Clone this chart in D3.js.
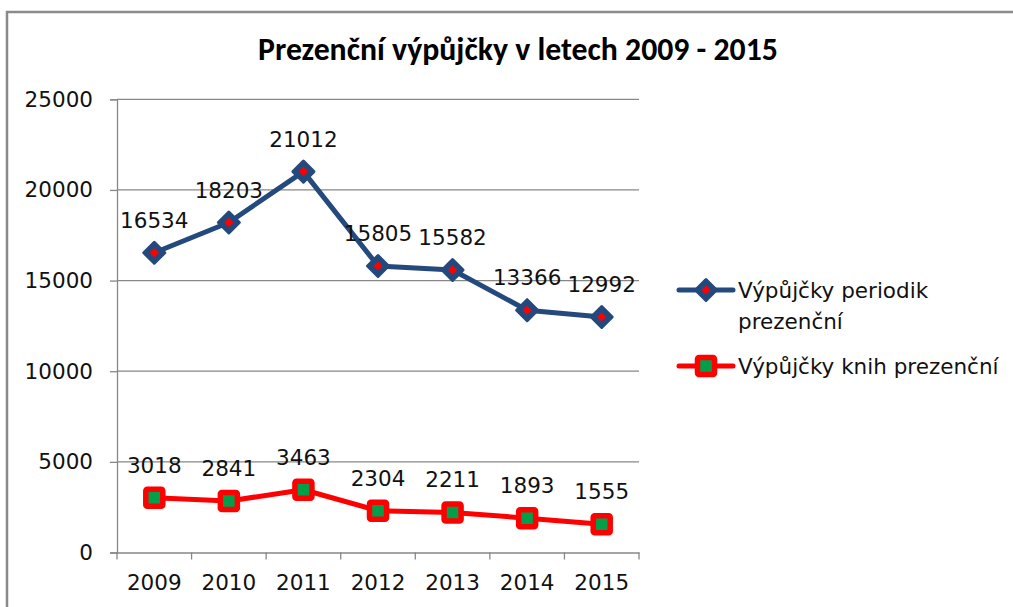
<!DOCTYPE html>
<html><head><meta charset="utf-8">
<script src="https://cdn.jsdelivr.net/npm/d3@7"></script>
<style>
html,body{margin:0;padding:0;background:#fff;overflow:hidden;}
svg{display:block;}
</style></head>
<body>
<svg id="chart" width="1013" height="607"></svg>
<script>
const categories = ["2009","2010","2011","2012","2013","2014","2015"];
const periodikValues = [16534,18203,21012,15805,15582,13366,12992];
const knihValues = [3018,2841,3463,2304,2211,1893,1555];
const yTicks = [0,5000,10000,15000,20000,25000];
const seriesNames = ["Výpůjčky periodik prezenční","Výpůjčky knih prezenční"];
const titleText = "Prezenční výpůjčky v letech 2009 - 2015";

const svg = d3.select("#chart");
const font = "'DejaVu Sans', Verdana, sans-serif";
const fs = 21.5;

svg.append("rect").attr("x",7).attr("y",12).attr("width",1200).attr("height",800)
  .attr("fill","#fff").attr("stroke","#8a8a8a").attr("stroke-width",2.5);

const x = d3.scaleBand().domain(categories).range([117,639]);
const y = d3.scaleLinear().domain([0,25000]).range([552.5,99.3]);

svg.append("g").selectAll("line").data(yTicks.filter(d=>d>0)).join("line")
  .attr("x1",117).attr("x2",639).attr("y1",d=>y(d)).attr("y2",d=>y(d))
  .attr("stroke","#878787").attr("stroke-width",1.3);

const yAxis = svg.append("g").attr("transform","translate(117,0)")
  .call(d3.axisLeft(y).tickValues(yTicks).tickSize(7).tickPadding(17).tickFormat(d3.format("d")));
yAxis.select(".domain").attr("stroke","#878787").attr("stroke-width",1.3);
yAxis.selectAll(".tick line").attr("stroke","#878787").attr("stroke-width",1.3);
yAxis.selectAll("text").attr("font-family",font).attr("font-size",fs).attr("fill","#111");

const xAxis = svg.append("g").attr("transform","translate(0,552.5)")
  .call(d3.axisBottom(x).tickSize(0).tickPadding(22));
xAxis.select(".domain").attr("stroke","#878787").attr("stroke-width",1.3);
xAxis.selectAll("text").attr("font-family",font).attr("font-size",fs).attr("fill","#111");
const bounds = categories.map(c=>x(c)).concat([x.range()[1]]);
xAxis.selectAll(".bt").data(bounds).join("line").attr("class","bt")
  .attr("x1",d=>d).attr("x2",d=>d).attr("y1",0).attr("y2",7)
  .attr("stroke","#878787").attr("stroke-width",1.3);

const cx = c => x(c) + x.bandwidth()/2;
const line = d3.line().x((d,i)=>cx(categories[i])).y(d=>y(d));

const blue = "#24497d", red = "#ff0000", green = "#00a04a";

svg.append("path").datum(periodikValues).attr("d",line).attr("fill","none")
  .attr("stroke",blue).attr("stroke-width",5).attr("stroke-linejoin","round");
svg.append("path").datum(knihValues).attr("d",line).attr("fill","none")
  .attr("stroke",red).attr("stroke-width",5).attr("stroke-linejoin","round");

function dpath(px,py,r){ return `M${px},${py-r}L${px+r},${py}L${px},${py+r}L${px-r},${py}Z`; }
function diamond(g, px, py){
  g.append("path").attr("d",dpath(px,py,10.5))
    .attr("fill",blue).attr("stroke",blue).attr("stroke-width",3).attr("stroke-linejoin","round");
  g.append("path").attr("d",dpath(px,py,4.5)).attr("fill",red);
}
function square(g, px, py){
  const s = 8.5;
  g.append("rect").attr("x",px-s).attr("y",py-s).attr("width",2*s).attr("height",2*s).attr("rx",1.5)
    .attr("fill",green).attr("stroke",red).attr("stroke-width",5.5);
}

const mg = svg.append("g");
periodikValues.forEach((v,i)=>diamond(mg, cx(categories[i]), y(v)));
knihValues.forEach((v,i)=>square(mg, cx(categories[i]), y(v)));

const lg = svg.append("g").attr("font-family",font).attr("font-size",fs).attr("fill","#111").attr("text-anchor","middle");
periodikValues.forEach((v,i)=>lg.append("text").attr("x",cx(categories[i])).attr("y",y(v)-25).text(v));
knihValues.forEach((v,i)=>lg.append("text").attr("x",cx(categories[i])).attr("y",y(v)-25).text(v));

const t = svg.append("text").attr("x",518).attr("y",60).attr("text-anchor","middle")
  .attr("font-family","Carlito, 'Liberation Sans Narrow', 'Open Sans', sans-serif").attr("font-weight","bold")
  .attr("font-size",27).attr("fill","#000").text(titleText);
const w = t.node().getComputedTextLength();
t.attr("font-size", 27*520/w);

const leg = svg.append("g");
leg.append("line").attr("x1",679).attr("x2",733).attr("y1",290).attr("y2",290).attr("stroke",blue).attr("stroke-width",5).attr("stroke-linecap","round");
diamond(leg, 706, 290);
leg.append("text").attr("x",738).attr("y",298).attr("font-family",font).attr("font-size",fs).attr("fill","#111").text("Výpůjčky periodik");
leg.append("text").attr("x",738).attr("y",329).attr("font-family",font).attr("font-size",fs).attr("fill","#111").text("prezenční");
leg.append("line").attr("x1",679).attr("x2",733).attr("y1",366).attr("y2",366).attr("stroke",red).attr("stroke-width",5).attr("stroke-linecap","round");
square(leg, 706, 366);
leg.append("text").attr("x",738).attr("y",374).attr("font-family",font).attr("font-size",fs).attr("fill","#111").text(seriesNames[1]);
</script>
</body></html>
